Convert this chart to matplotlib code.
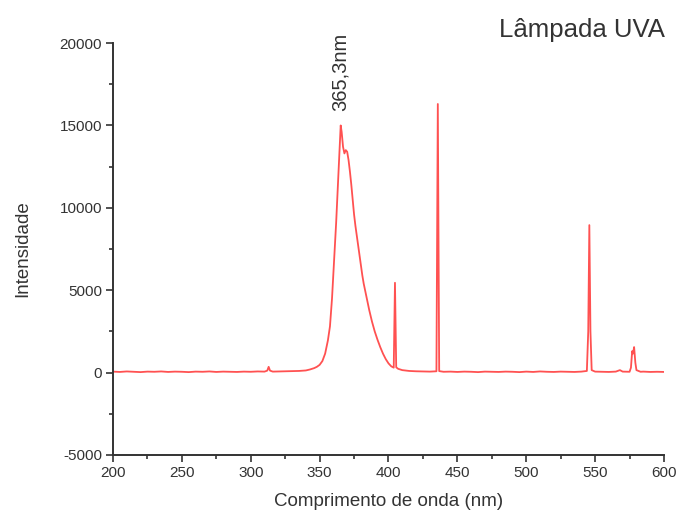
import matplotlib.pyplot as plt
from matplotlib.ticker import MultipleLocator
import numpy as np

plt.rcParams['font.family'] = ['Liberation Sans', 'DejaVu Sans']
plt.rcParams['axes.unicode_minus'] = False

# espectro da lampada UVA (comprimento de onda em nm, intensidade)
comprimento = [200, 205, 210, 215, 220, 225, 230, 235, 240, 245, 250, 255, 260, 265, 270, 275,
               280, 285, 290, 295, 300, 305, 310, 312, 313, 314, 316, 320, 325, 330, 335, 340,
               343, 346, 348, 350, 352, 354, 356, 357.5, 359, 360, 361, 362, 363, 364, 365,
               365.3, 366, 367, 368, 369, 370, 371, 372, 373, 374, 375, 376, 377, 378, 379,
               380, 381, 382, 384, 386, 388, 390, 392, 394, 396, 398, 400, 402, 403.8, 404.7,
               405.6, 407, 410, 415, 420, 425, 430, 434.8, 435.8, 436.8, 440, 445, 450, 455,
               460, 465, 470, 475, 480, 485, 490, 495, 500, 505, 510, 515, 520, 525, 530, 535,
               540, 544, 545, 545.8, 546.6, 547.5, 550, 555, 560, 565, 568, 570, 575, 576,
               576.9, 577.5, 578.3, 579.2, 580, 583, 585, 590, 595, 600]
intensidade = [60, 40, 70, 50, 30, 60, 50, 70, 40, 60, 50, 30, 60, 50, 70, 40,
               60, 50, 40, 60, 50, 70, 60, 120, 350, 120, 60, 70, 80, 90, 100, 130,
               190, 270, 350, 470, 700, 1150, 1950, 2800, 4500, 6000, 7500, 9100, 10900, 12800, 14500,
               15000, 14600, 13700, 13300, 13500, 13400, 12900, 12200, 11400, 10500, 9600, 8900, 8300, 7700, 7100,
               6500, 5900, 5400, 4600, 3800, 3100, 2500, 2000, 1550, 1150, 820, 560, 380, 300, 5450,
               320, 230, 150, 100, 80, 70, 60, 80, 16300, 90, 50, 60, 40, 60,
               50, 30, 60, 50, 40, 60, 50, 30, 60, 40, 70, 50, 40, 60, 50, 40,
               60, 100, 2500, 8950, 2500, 150, 60, 50, 40, 60, 150, 60, 50, 300,
               1300, 1150, 1550, 600, 150, 50, 60, 40, 50, 40]

fig = plt.figure(figsize=(6.77, 5.14), dpi=100)
ax = fig.add_axes([0.1669, 0.1148, 0.8139, 0.8015])

ax.plot(comprimento, intensidade, color='#ff3333', lw=1.3, alpha=0.85)

ax.set_xlim(200, 600)
ax.set_ylim(-5000, 20000)
ax.xaxis.set_major_locator(MultipleLocator(50))
ax.xaxis.set_minor_locator(MultipleLocator(25))
ax.yaxis.set_major_locator(MultipleLocator(5000))
ax.yaxis.set_minor_locator(MultipleLocator(2500))

for s in ['top', 'right']:
    ax.spines[s].set_visible(False)
for s in ['left', 'bottom']:
    ax.spines[s].set_color('#333333')
    ax.spines[s].set_linewidth(1.4)

ax.tick_params(which='major', direction='out', length=5, width=1.2, color='#333333',
               labelsize=11, labelcolor='#333333', pad=3)
ax.tick_params(which='minor', direction='out', length=3, width=1.2, color='#333333')

ax.set_xlabel('Comprimento de onda (nm)', fontsize=13.5, color='#333333', labelpad=9)
ax.set_ylabel('Intensidade', fontsize=13.5, color='#333333', labelpad=20)

ax.text(365.3, 15900, '365,3nm', rotation=90, ha='center', va='bottom',
        fontsize=14.5, color='#333333')
fig.text(0.86, 0.942, 'Lâmpada UVA', ha='center', va='center', fontsize=18.5, color='#333333')

fig.savefig('out.png', dpi=100)
